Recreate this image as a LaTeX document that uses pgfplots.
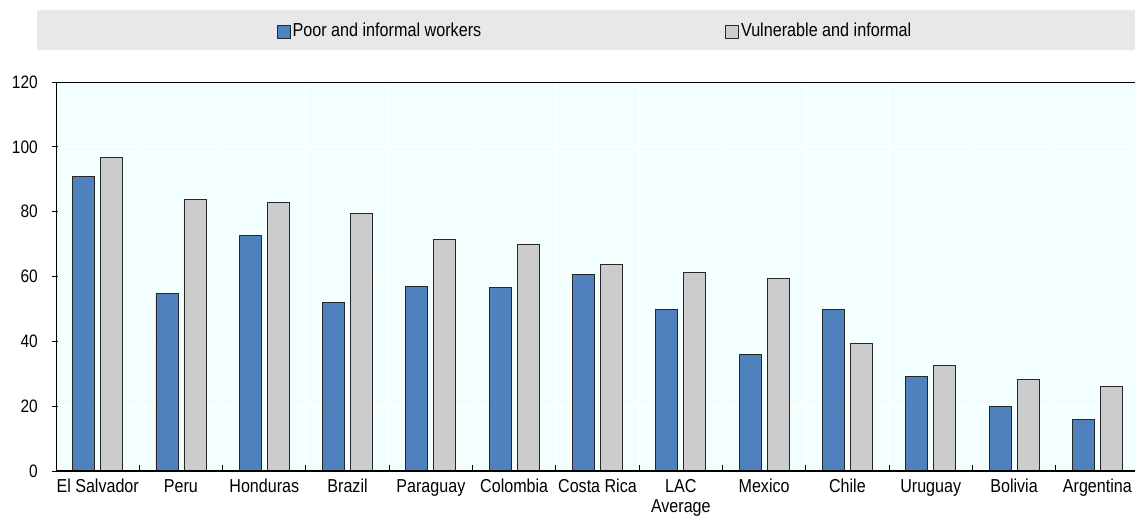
\documentclass[border=0pt]{standalone}
\usepackage{fontspec}
\setmainfont{Liberation Sans}[FakeStretch=0.86]
\usepackage{pgfplots}
\pgfplotsset{compat=1.18}
\definecolor{barblue}{HTML}{4F81BD}
\definecolor{bargray}{HTML}{CCCCCC}
\definecolor{bgblue}{HTML}{F3FFFF}
\definecolor{leggray}{HTML}{E8E8E8}
\begin{document}
\fontsize{18}{22}\selectfont
\begin{tikzpicture}
\fill[leggray] (-19pt,421pt) rectangle (1079pt,461pt);
\begin{axis}[
  scale only axis, width=1083pt, height=389pt,
  xmin=-0.5, xmax=12.5, ymin=0, ymax=120,
  ybar=6pt, bar width=22pt,
  axis background/.style={fill=bgblue},
  axis line style={black, line width=0.9pt},
  ytick={0,20,...,120},
  xtick={0.5,1.5,...,11.5}, xticklabels={},
  extra x ticks={0,1,...,12},
  extra x tick labels={El Salvador,Peru,Honduras,Brazil,Paraguay,Colombia,Costa Rica,{LAC\\Average},Mexico,Chile,Uruguay,Bolivia,Argentina},
  extra x tick style={major tick length=0pt, grid=none},
  xtick pos=bottom, ytick pos=left,
  tick align=inside,
  x tick style={black, line width=1pt},
  major tick length=6pt,
  y tick style={black, line width=0.8pt, xshift=-4pt},
  grid=major, major grid style={white, line width=1.5pt},
  xticklabel style={align=center, font=\fontsize{18.7}{20.5}\selectfont, inner sep=2pt, yshift=-6pt},
  yticklabel style={font=\fontsize{18}{22}\selectfont, xshift=-12pt},
  /pgf/number format/assume math mode=true,
  legend columns=2,
  legend style={at={(0.4977,1)}, anchor=center, yshift=51pt, draw=none, fill=none,
    font=\fontsize{18.8}{22}\selectfont, inner sep=0pt,
    /tikz/every even column/.append style={column sep=242pt}},
  legend image code/.code={\draw[#1, line width=0.8pt] (0pt,-7.5pt) rectangle (13pt,5.5pt);},
]
\addplot[fill=barblue, draw=black!85, line width=0.9pt] coordinates {
(0,90.8) (1,54.9) (2,72.6) (3,51.9) (4,56.8) (5,56.5) (6,60.5) (7,49.7) (8,35.8) (9,49.7) (10,29.3) (11,19.8) (12,16.0)};
\addplot[fill=bargray, draw=black!85, line width=0.9pt] coordinates {
(0,96.6) (1,83.7) (2,82.7) (3,79.3) (4,71.3) (5,69.8) (6,63.6) (7,61.1) (8,59.3) (9,39.3) (10,32.5) (11,28.3) (12,26.0)};
\legend{Poor and informal workers, Vulnerable and informal}
\draw[black, line width=2pt] (rel axis cs:0,0) -- (rel axis cs:1,0);
\end{axis}
\pgfresetboundingbox
\useasboundingbox (-56pt,-47pt) rectangle (1079pt,471pt);
\end{tikzpicture}
\end{document}
